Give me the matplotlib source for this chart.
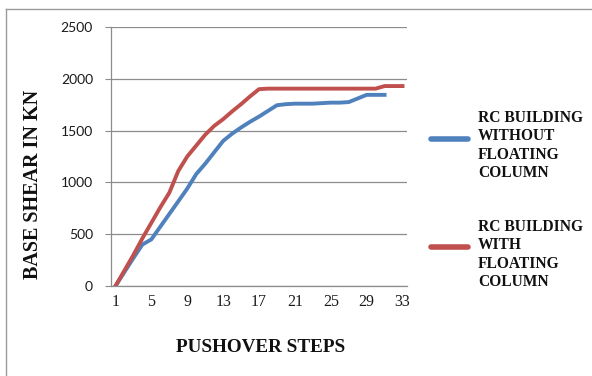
import matplotlib
matplotlib.use("Agg")
import matplotlib.pyplot as plt
from matplotlib.lines import Line2D
import numpy as np

# pushover curve data (base shear in kN per step)
steps_without = np.arange(1, 32)
shear_without = [0, 135, 270, 400, 450, 573, 695, 817, 940, 1080, 1180, 1290, 1400,
                 1470, 1530, 1585, 1635, 1690, 1745, 1755, 1760, 1760, 1760, 1765,
                 1770, 1770, 1775, 1810, 1845, 1845, 1845]
steps_with = np.arange(1, 34)
shear_with = [0, 150, 300, 460, 610, 760, 900, 1110, 1250, 1355, 1460, 1545, 1610,
              1685, 1755, 1830, 1900, 1905, 1905, 1905, 1905, 1905, 1905, 1905,
              1905, 1905, 1905, 1905, 1905, 1905, 1930, 1930, 1930]
x_ticks = list(range(1, 34, 4))
y_ticks = [0, 500, 1000, 1500, 2000, 2500]

blue = '#4f81bd'
red = '#c0504d'
grey = '#8c8c8c'
serif = ['Liberation Serif', 'DejaVu Serif']

W, H = 592, 376
fig = plt.figure(figsize=(W / 100, H / 100), dpi=100)
ax = fig.add_axes([111 / W, 90 / H, 296 / W, 259 / H])

ax.plot(steps_without, shear_without, color=blue, lw=2.8, solid_joinstyle='round')
ax.plot(steps_with, shear_with, color=red, lw=2.8, solid_joinstyle='round')

ax.set_xlim(0.5, 33.5)
ax.set_ylim(0, 2500)
ax.set_xticks(x_ticks)
ax.set_xticklabels([str(t) for t in x_ticks], family=serif, fontsize=11.5)
ax.set_yticks(y_ticks)
ax.set_yticklabels([str(t) for t in y_ticks], family='Lato', fontsize=10)
ax.tick_params(axis='x', length=0, pad=6, colors='#1a1a1a')
ax.tick_params(axis='y', length=4, width=0.8, color=grey, pad=9, labelcolor='#1a1a1a')
ax.grid(axis='y', color=grey, lw=0.9)
ax.set_axisbelow(True)
for side in ['top', 'right']:
    ax.spines[side].set_visible(False)
for side in ['left', 'bottom']:
    ax.spines[side].set_color(grey)
    ax.spines[side].set_linewidth(0.9)

# axis titles
fig.text(261 / W, 1 - 347 / H, 'PUSHOVER STEPS', family=serif, weight='bold',
         fontsize=13.8, ha='center', va='center', color='#111111')
fig.text(33 / W, 1 - 184 / H, 'BASE SHEAR IN KN', family=serif, weight='bold',
         fontsize=14.5, ha='center', va='center', rotation=90, color='#111111')

# legend drawn by hand: swatch plus stacked label lines
legend_items = [
    (blue, 139, ['RC BUILDING', 'WITHOUT', 'FLOATING', 'COLUMN'], 118),
    (red, 247, ['RC BUILDING', 'WITH', 'FLOATING', 'COLUMN'], 227),
]
for color, ly, lines, ty in legend_items:
    fig.add_artist(Line2D([431 / W, 468 / W], [1 - ly / H, 1 - ly / H], color=color,
                          lw=4, solid_capstyle='round', transform=fig.transFigure))
    for i, txt in enumerate(lines):
        fig.text(478 / W, 1 - (ty + i * 18.3) / H, txt, family=serif, weight='bold',
                 fontsize=11.2, ha='left', va='center', color='#111111')

# outer chart border
fig.add_artist(Line2D([6 / W, 6 / W], [0, 1 - 9 / H], color='#9a9a9a', lw=1,
                      transform=fig.transFigure))
fig.add_artist(Line2D([6 / W, 1], [1 - 9 / H, 1 - 9 / H], color='#9a9a9a', lw=1,
                      transform=fig.transFigure))

fig.savefig('out.png', dpi=100)
